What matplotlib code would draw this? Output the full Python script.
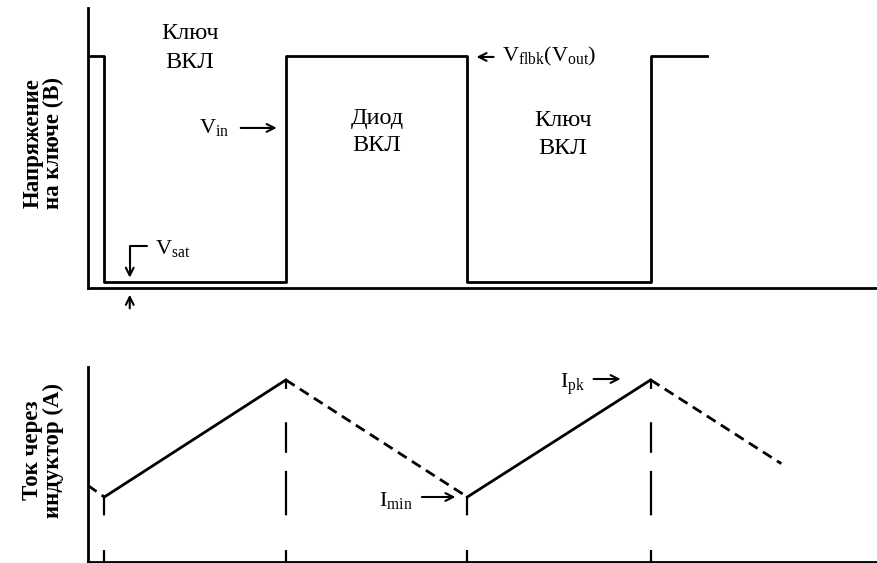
import matplotlib
matplotlib.use('Agg')
import matplotlib.pyplot as plt

plt.rcParams['font.family'] = ['Liberation Serif', 'DejaVu Serif']
plt.rcParams['mathtext.fontset'] = 'custom'
plt.rcParams['mathtext.rm'] = 'Liberation Serif'
plt.rcParams['mathtext.it'] = 'Liberation Serif:italic'
plt.rcParams['lines.scale_dashes'] = False

# switch voltage (steps-post), time in half-periods
t_sw = [0.0, 0.09, 1.09, 2.09, 3.10, 3.41]
v_sw = [1.0, 0.026, 1.0, 0.026, 1.0, 1.0]

# inductor current corner points and segment styles
t_cur = [0.0, 0.09, 1.09, 2.09, 3.10, 3.82]
i_cur = [0.42, 0.357, 1.0, 0.357, 1.0, 0.54]
seg_style = ['dashed', 'solid', 'dashed', 'solid', 'dashed']

# vertical markers at switching edges
t_marks = [0.09, 1.09, 2.09, 3.10]
i_marks = [0.357, 1.0, 0.357, 1.0]

W, H = 877, 563
fig = plt.figure(figsize=(W / 100, H / 100), dpi=100)

def px_axes(left, top, right, bottom):
    return fig.add_axes([left / W, 1 - bottom / H, (right - left) / W, (bottom - top) / H])

ax1 = px_axes(88, 8, 877, 288)
ax2 = px_axes(88, 367, 877, 562)

for ax in (ax1, ax2):
    ax.set_xlim(0, 4.347)
    ax.set_xticks([])
    ax.set_yticks([])
    for s in ('top', 'right'):
        ax.spines[s].set_visible(False)
    ax.spines['left'].set_linewidth(2)
    ax.spines['bottom'].set_linewidth(2)
ax1.set_ylim(0, 1.207)
ax2.set_ylim(0, 1.071)

lw = 2
ax1.plot(t_sw, v_sw, drawstyle='steps-post', color='black', lw=lw)

arr = dict(arrowstyle='->', color='black', lw=1.5, mutation_scale=14)
fs = 16
fs_state = 17.5

ax1.text(0.562, 1.035, 'Ключ\nВКЛ', ha='center', va='center', fontsize=fs_state, linespacing=1.55)
ax1.text(1.592, 0.672, 'Диод\nВКЛ', ha='center', va='center', fontsize=fs_state, linespacing=1.4)
ax1.text(2.617, 0.66, 'Ключ\nВКЛ', ha='center', va='center', fontsize=fs_state, linespacing=1.45)

# V_in
ax1.annotate('', xy=(1.055, 0.69), xytext=(0.826, 0.69), arrowprops=arr)
ax1.text(0.78, 0.69, r'V$_{\rm in}$', ha='right', va='center', fontsize=fs)

# V_flbk
ax1.annotate('', xy=(2.125, 0.996), xytext=(2.25, 0.996), arrowprops=arr)
ax1.text(2.28, 0.996, r'V$_{\rm flbk}$(V$_{\rm out}$)', ha='left', va='center', fontsize=fs)

# V_sat
ax1.annotate('', xy=(0.23, 0.032), xytext=(0.34, 0.181),
             arrowprops=dict(arr, connectionstyle='angle,angleA=0,angleB=90,rad=0'))
ax1.text(0.37, 0.172, r'V$_{\rm sat}$', ha='left', va='center', fontsize=fs)
ax1.annotate('', xy=(0.23, -0.017), xytext=(0.23, -0.10), arrowprops=arr,
             annotation_clip=False)

# inductor current
for k, st in enumerate(seg_style):
    kw = dict(dashes=(7.5, 4.5)) if st == 'dashed' else {}
    ax2.plot(t_cur[k:k + 2], i_cur[k:k + 2], color='black', lw=lw, **kw)

for t, i in zip(t_marks, i_marks):
    if i > 0.9:
        d = (8.6, 25, 32, 13, 22, 24, 40, 10)
    else:
        d = (8.6, 25, 30, 20)
    ax2.plot([t, t], [0, i], color='black', lw=1.6, dashes=d)

ax2.annotate('', xy=(2.04, 0.357), xytext=(1.824, 0.357), arrowprops=arr)
ax2.text(1.79, 0.34, r'I$_{\rm min}$', ha='right', va='center', fontsize=fs)
ax2.annotate('', xy=(2.95, 1.005), xytext=(2.77, 1.005), arrowprops=arr)
ax2.text(2.74, 0.975, r'I$_{\rm pk}$', ha='right', va='center', fontsize=fs)

# y labels
fig.text(43 / W, 1 - 143 / H, 'Напряжение\nна ключе (В)', rotation=90, ha='center', va='center',
         fontsize=16.5, fontweight='bold', linespacing=0.95)
fig.text(43 / W, 1 - 450 / H, 'Ток через\nиндуктор (А)', rotation=90, ha='center', va='center',
         fontsize=16.5, fontweight='bold', linespacing=0.95)

fig.savefig('out.png', dpi=100)
